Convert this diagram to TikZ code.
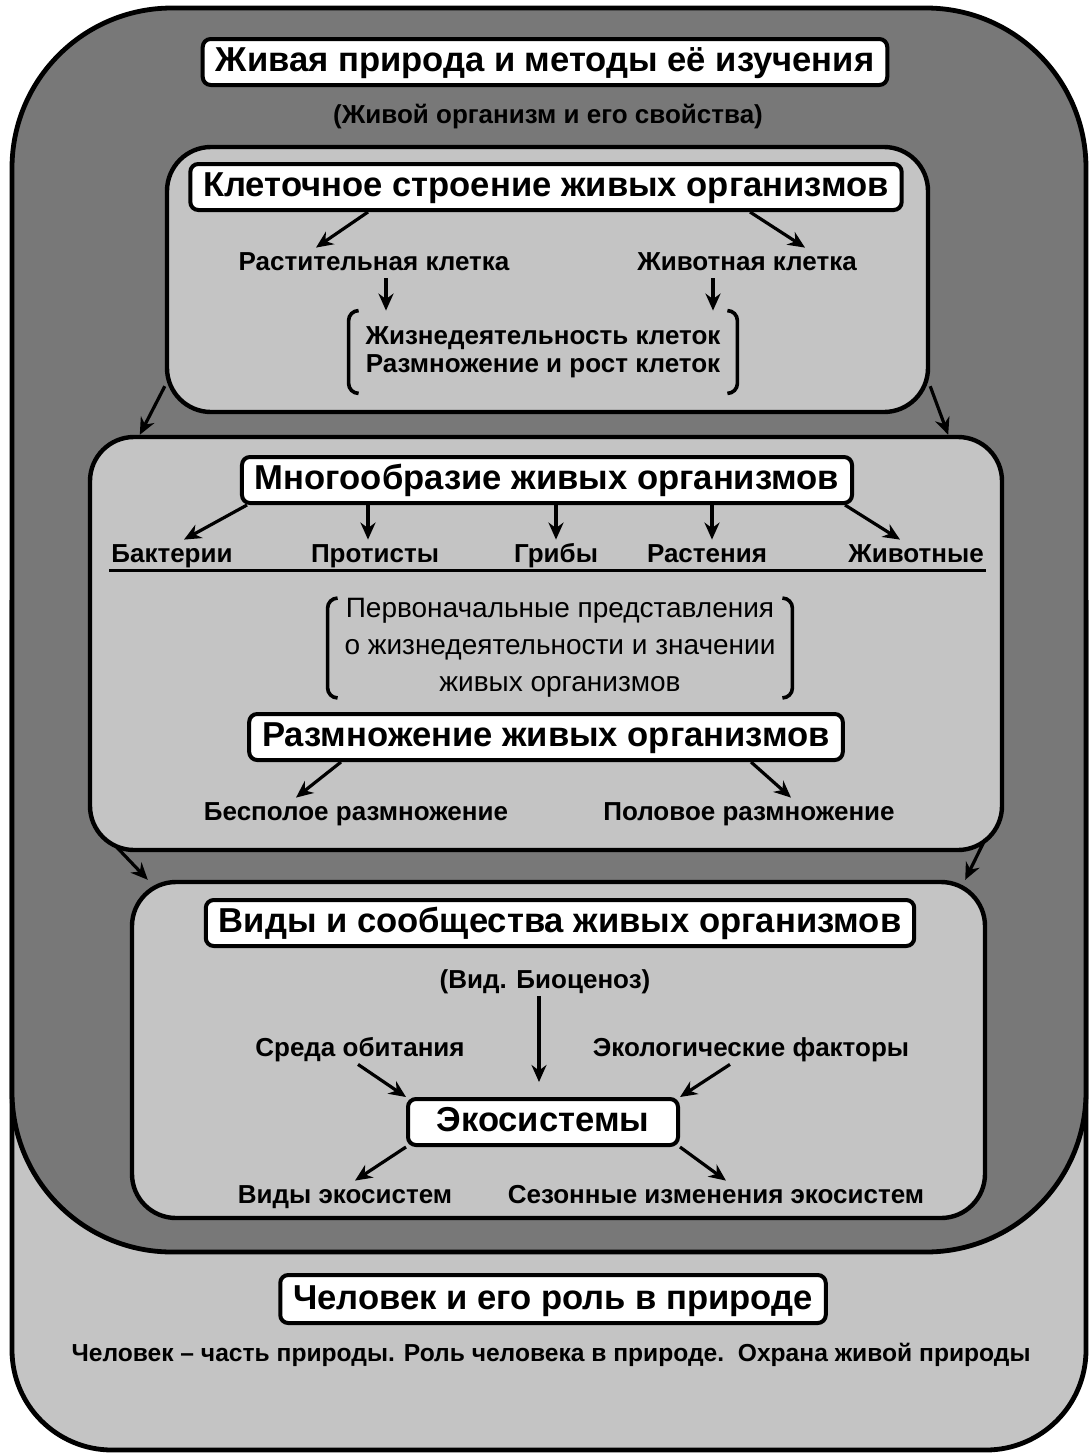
\documentclass[tikz,border=0pt]{standalone}
\usepackage{fontspec}
\setmainfont{Liberation Sans}
\usetikzlibrary{arrows.meta,fit}
\definecolor{shellgray}{gray}{0.47}
\definecolor{panelgray}{gray}{0.77}

\begin{document}
\begin{tikzpicture}[
  x=0.5pt, y=-0.5pt,
  >={Stealth[length=8.5pt,width=7.5pt]},
  link/.style={->, line width=1.6pt},
  shell/.style={draw=black, line width=2.4pt},
  panel/.style={draw, line width=2.2pt, fill=panelgray, rounded corners=22pt, inner sep=0pt},
  heading/.style={draw, line width=2pt, fill=white, rounded corners=4pt, inner xsep=6.5pt, inner ysep=3pt,
    text height=13pt, text depth=4pt, font=\fontsize{17.3}{21}\selectfont\bfseries},
  item/.style={inner sep=1pt, text height=10pt, text depth=3pt, font=\fontsize{13}{15}\selectfont\bfseries},
  brktext/.style={inner sep=0pt, align=center, font=\fontsize{13}{14}\selectfont\bfseries},
  brk/.style={line width=1.8pt, rounded corners=5pt},
  rule/.style={line width=1.4pt}
]
  % page and the two big frames (unit = one pixel of the scan)
  \useasboundingbox (0,0) rectangle (1090,1456);
  \fill[white] (0,0) rectangle (1090,1456);
  \draw[shell, fill=panelgray, rounded corners=50pt] (12,600) -- (12,1450) -- (1086,1450) -- (1086,600);
  \draw[shell, fill=shellgray, rounded corners=80pt] (12,8) rectangle (1086,1252);

  \node[heading] (title) at (545,62) {Живая природа и методы её изучения};
  \node[item] (organism) at (548,116) {(Живой организм и его свойства)};

  % cell structure
  \node[panel, fit={(167,147) (928,412)}] (cellpanel) {};
  \node[heading] (cellhead) at (546,187) {Клеточное строение живых организмов};
  \node[item] (plant) at (374,263) {Растительная клетка};
  \node[item] (animal) at (747,263) {Животная клетка};
  \node[brktext, minimum width=194pt, minimum height=41pt] (cellfunc) at (543,352)
    {Жизнедеятельность клеток\\Размножение и рост клеток};
  \draw[brk] ([xshift=5pt]cellfunc.north west) -| (cellfunc.west) |- ([xshift=5pt]cellfunc.south west);
  \draw[brk] ([xshift=-5pt]cellfunc.north east) -| (cellfunc.east) |- ([xshift=-5pt]cellfunc.south east);
  \draw[link] ([xshift=-89pt]cellhead.south) -- ([xshift=-29pt]plant.north);
  \draw[link] ([xshift=102pt]cellhead.south) -- ([xshift=29pt]animal.north);
  \draw[link] ([xshift=6pt]plant.south) -- ([xshift=6pt]plant.south |- cellfunc.north);
  \draw[link] ([xshift=-17pt]animal.south) -- ([xshift=-17pt]animal.south |- cellfunc.north);

  % diversity
  \node[panel, fit={(90,437) (1002,850)}] (divpanel) {};
  \draw[link] ([yshift=14pt]cellpanel.south west) -- ([xshift=26pt]divpanel.north west);
  \draw[link] ([yshift=14pt]cellpanel.south east) -- ([xshift=-28pt]divpanel.north east);
  \node[heading] (divhead) at (547,480) {Многообразие живых организмов};
  \node[item] (bact) at (172,555) {Бактерии};
  \node[item] (prot) at (375,555) {Протисты};
  \node[item] (fungi) at (556,555) {Грибы};
  \node[item] (plants) at (707,555) {Растения};
  \node[item] (animals) at (916,555) {Животные};
  \draw[rule] (bact.south west) -- (bact.south west -| animals.south east);
  \draw[link] ([xshift=-150pt]divhead.south) -- ([xshift=6pt]bact.north);
  \draw[link] ([xshift=-3.5pt]prot.north |- divhead.south) -- ([xshift=-3.5pt]prot.north);
  \draw[link] (fungi.north |- divhead.south) -- (fungi.north);
  \draw[link] ([xshift=2.5pt]plants.north |- divhead.south) -- ([xshift=2.5pt]plants.north);
  \draw[link] ([xshift=149pt]divhead.south) -- ([xshift=-8pt]animals.north);

  \node[brktext, font=\fontsize{14}{18.5}\selectfont, minimum width=232pt, minimum height=48pt] (orgidea) at (560,648)
    {Первоначальные представления\\о жизнедеятельности и значении\\живых организмов};
  \draw[brk] ([xshift=5pt]orgidea.north west) -| (orgidea.west) |- ([xshift=5pt]orgidea.south west);
  \draw[brk] ([xshift=-5pt]orgidea.north east) -| (orgidea.east) |- ([xshift=-5pt]orgidea.south east);

  \node[heading] (reprohead) at (546,737) {Размножение живых организмов};
  \node[item] (asex) at (356,813) {Бесполое размножение};
  \node[item] (sex) at (749,813) {Половое размножение};
  \draw[link] ([xshift=-102.5pt]reprohead.south) -- ([xshift=-30pt]asex.north);
  \draw[link] ([xshift=102.5pt]reprohead.south) -- ([xshift=21pt]sex.north);

  % species and communities
  \node[panel, fit={(132,882) (985,1218)}] (ecopanel) {};
  \draw[link] ([xshift=14pt,yshift=3pt]divpanel.south west) -- ([xshift=9pt]ecopanel.north west);
  \draw[link] ([xshift=-9.5pt,yshift=6.5pt]divpanel.south east) -- ([xshift=-11pt]ecopanel.north east);
  \node[heading] (kindhead) at (560,923) {Виды и сообщества живых организмов};
  \node[item] (biocen) at (545,981) {(Вид. Биоценоз)};
  \coordinate (biotip) at (539,1082);
  \draw[link] (biocen.south -| biotip) -- (biotip);
  \node[item] (habitat) at (360,1049) {Среда обитания};
  \node[item] (factors) at (751,1049) {Экологические факторы};
  \node[heading, minimum width=135pt] (ecohead) at (543,1122) {Экосистемы};
  \node[item] (kinds) at (345,1196) {Виды экосистем};
  \node[item] (seasons) at (716,1196) {Сезонные изменения экосистем};
  \draw[link] ([xshift=-1pt]habitat.south) -- (ecohead.north west);
  \draw[link] ([xshift=-10.5pt]factors.south) -- (ecohead.north east);
  \draw[link] (ecohead.south west) -- ([xshift=5pt]kinds.north);
  \draw[link] (ecohead.south east) -- ([xshift=5pt]seasons.north);

  % man
  \node[heading, text height=14pt] (humanhead) at (553,1299) {Человек и его роль в природе};
  \node[item, font=\fontsize{12.3}{15}\selectfont\bfseries] (humanrole) at (551,1354)
    {Человек – часть природы. Роль человека в природе.\ \ Охрана живой природы};
\end{tikzpicture}
\end{document}
